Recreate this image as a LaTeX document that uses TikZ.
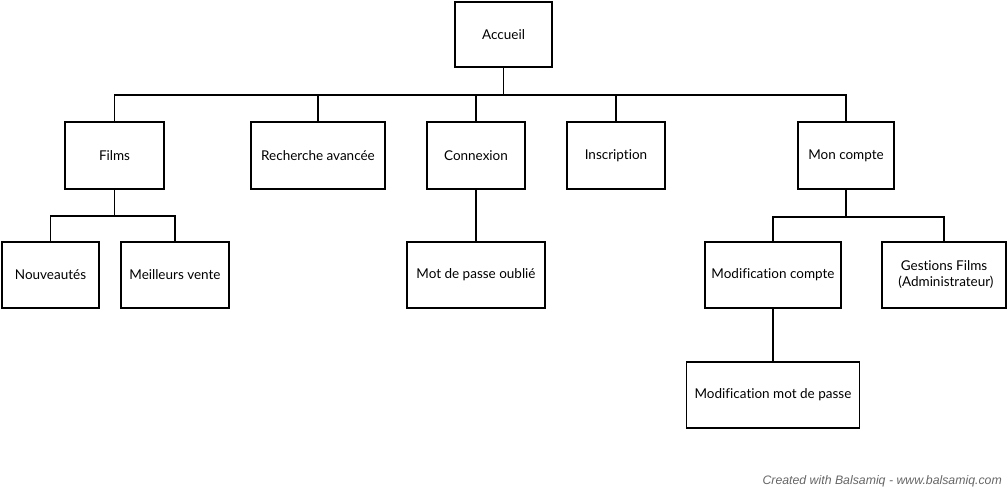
\documentclass[tikz,border=0pt]{standalone}
\usepackage{fontspec}
\setmainfont{Lato}[Ligatures=NoCommon]
\newfontfamily\footfont{Liberation Sans}
\begin{document}
\begin{tikzpicture}[x=1pt,y=-1pt,
  page/.style={draw=black,line width=1.9pt,fill=white,inner sep=0pt,
    align=center,font=\fontsize{13.5}{16}\selectfont},
  link/.style={draw=black,line width=1.9pt}]
\useasboundingbox (0,0) rectangle (1008,490);

% pages of the site
\node[page,minimum width=97pt,minimum height=65pt]  (acc)   at (503.5,34.5) {Accueil};
\node[page,minimum width=99pt,minimum height=67pt]  (films) at (114.5,155.5) {Films};
\node[page,minimum width=134pt,minimum height=67pt] (rech)  at (318,155.5) {Recherche avancée};
\node[page,minimum width=98pt,minimum height=67pt]  (cnx)   at (476,155.5) {Connexion};
\node[page,minimum width=98pt,minimum height=67pt]  (insc)  at (616,155.5) {Inscription};
\node[page,minimum width=96pt,minimum height=67pt]  (mon)   at (846,155.5) {Mon compte};
\node[page,minimum width=97pt,minimum height=66pt]  (nouv)  at (50.5,275) {Nouveautés};
\node[page,minimum width=108pt,minimum height=66pt] (best)  at (175,275) {Meilleurs vente};
\node[page,minimum width=138pt,minimum height=66pt] (oubli) at (476,275) {Mot de passe oublié};
\node[page,minimum width=136pt,minimum height=66pt] (modc)  at (773,275) {Modification compte};
\node[page,minimum width=124pt,minimum height=66pt] (gest)  at (944,275) {Gestions Films\\\hspace*{4pt}(Administrateur)};
\node[page,minimum width=173pt,minimum height=66pt] (modm)  at (773,395) {Modification mot de passe};

% tree connectors
\foreach \c in {films,rech,cnx,insc,mon}
  \draw[link] (acc.south) -- ++(0,27) -| (\c.north);
\foreach \c in {nouv,best}
  \draw[link] (films.south) -- ++(0,26) -| (\c.north);
\foreach \c in {modc,gest}
  \draw[link] (mon.south) -- ++(0,27) -| (\c.north);
\draw[link] (cnx.south) -- (oubli.north);
\draw[link] (modc.south) -- (modm.north);

% footer credit
\node[anchor=base east,inner sep=0pt,text=black!60,
  font=\footfont\itshape\fontsize{12.3}{14}\selectfont] (credit) at (1002,484)
  {Created with Balsamiq - www.balsamiq.com};
\end{tikzpicture}
\end{document}
